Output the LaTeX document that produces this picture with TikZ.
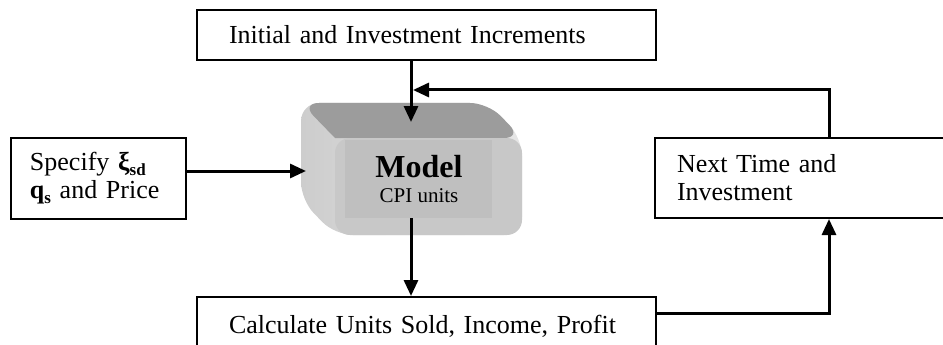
\documentclass[tikz,border=0pt]{standalone}
\usepackage{fontspec}
\setmainfont{Liberation Serif}
\usetikzlibrary{arrows.meta}
\definecolor{topface}{RGB}{156,156,156}
\definecolor{sideface}{RGB}{230,230,230}
\definecolor{sidedark}{RGB}{205,205,205}
\definecolor{frontface}{RGB}{200,200,200}
\definecolor{innerface}{RGB}{191,191,191}
\tikzset{
  box/.style={draw, line width=2pt, fill=white, align=left,
    font=\fontsize{26}{28}\selectfont},
  flow/.style={line width=3pt, -{Triangle[length=16pt,width=14pt]}},
}
\begin{document}
\begin{tikzpicture}[x=1pt,y=-1pt]
  \useasboundingbox (0,0) rectangle (943,345);
  \clip (0,0) rectangle (943,345);
  % model block
  \shade[left color=sidedark, right color=sideface, rounded corners=18pt]
    (301,103) -- (488,103) -- (522,138) -- (522,235) -- (335,235) -- (301,200) -- cycle;
  \fill[topface] (335,138) [rounded corners=18pt] -- (301,103) -- (488,103) -- (522,138)
    [sharp corners] -- cycle;
  \fill[frontface, rounded corners=15pt] (335,138) rectangle (522,235);
  \fill[innerface] (345,140) rectangle (492,218);
  \node[anchor=base, font=\fontsize{32}{32}\selectfont\bfseries] (model) at (419,177) {Model};
  \node[anchor=base, font=\fontsize{21}{24}\selectfont] (cpi) at (419,202) {CPI units};
  \coordinate (mtop) at (411,122);
  \coordinate (mleft) at (306,171);
  \coordinate (mbot) at (411,218);
  % boxes
  \node[box, minimum width=459pt, minimum height=50pt, text width=395pt, inner xsep=32pt]
    (init) at (426.5,35) {Initial and Investment Increments};
  \node[box, minimum width=459pt, minimum height=58pt, text width=395pt, inner xsep=32pt]
    (calc) at (426.5,326) {Calculate Units Sold, Income, Profit};
  \node[box, minimum width=175pt, minimum height=81pt, text width=137pt, inner xsep=19pt]
    (spec) at (98.5,178.5) {Specify \textbf{ξ}\raisebox{-.35ex}{\fontsize{17}{17}\selectfont\bfseries sd}\\
    \textbf{q}\raisebox{-.35ex}{\fontsize{17}{17}\selectfont\bfseries s} and Price};
  \node[box, minimum width=345pt, minimum height=80pt, text width=301pt, inner xsep=22pt]
    (next) at (827.5,178) {Next Time and\\Investment};
  \coordinate (back) at (829,90);
  \coordinate (join) at (413,90);
  \coordinate (out) at (656,313);
  % connectors
  \draw[flow] (init.south -| mtop) -- (mtop);
  \draw[flow] (spec.east |- mleft) -- (mleft);
  \draw[flow] (mbot) -- (mbot |- calc.north);
  \draw[flow] (back |- next.north) -- (back) -- (join);
  \draw[flow] (out) -| (next.south -| back);
\end{tikzpicture}
\end{document}
